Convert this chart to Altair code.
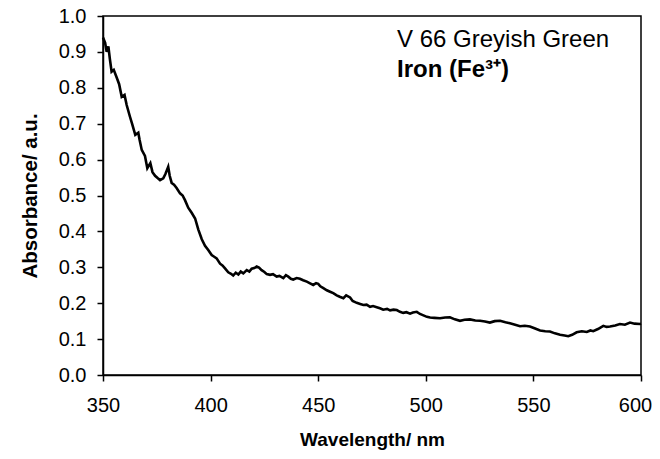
import altair as alt
import pandas as pd

wavelength = [
    350, 351, 351.7, 352.5, 353.2, 354, 355, 356.4, 357.5, 358.7,
    360, 361, 362.5, 363.5, 365, 366.4, 367, 368, 369.5, 370.6,
    372, 373, 374.2, 375.5, 376.5, 378, 379, 380.3, 381, 381.9,
    383, 384.2, 385.8, 387, 388.1, 389.6, 391.2, 392.8, 394.3, 395.9,
    397.4, 398.9, 400.5, 401.5, 402.8, 404.4, 405.5, 406.7, 408.2, 409.5,
    410.5, 411.7, 412.9, 414, 415.2, 416.8, 418, 419.1, 420.3, 421.4,
    422.5, 423.7, 425, 426.1, 427.6, 429, 430.7, 432, 433.8, 435,
    436.1, 437.3, 438.4, 440, 441.5, 443, 444.7, 446, 447.7, 449,
    450, 451, 452.4, 454, 455.5, 457, 458.6, 460, 461.7, 463,
    464.8, 466, 467.9, 469.5, 471, 472.5, 474.1, 475.5, 477.2, 478.7,
    480.2, 482, 483.4, 485, 486.5, 488, 489.5, 491, 492.7, 494,
    495.8, 497.3, 498.9, 500.5, 502, 504, 506.6, 509, 511.2, 513.5,
    515.9, 518, 520.5, 523, 525.2, 527.5, 529.8, 532, 534.5, 537,
    539.1, 541.5, 543.8, 546, 548.4, 550.5, 553.1, 555.5, 557.7, 560,
    562.4, 564.5, 566.2, 568, 570.1, 572.5, 574.8, 576.5, 577.8, 580,
    582.5, 584, 585.6, 588, 590.2, 592.5, 594.9, 597, 599.5, 600,
]

absorbance = [
    0.94, 0.925, 0.90, 0.915, 0.88, 0.845, 0.85, 0.828, 0.81, 0.775,
    0.78, 0.752, 0.72, 0.70, 0.669, 0.675, 0.655, 0.627, 0.61, 0.576,
    0.59, 0.565, 0.555, 0.548, 0.543, 0.548, 0.56, 0.58, 0.555, 0.535,
    0.53, 0.521, 0.506, 0.50, 0.487, 0.466, 0.452, 0.436, 0.405, 0.378,
    0.36, 0.348, 0.334, 0.33, 0.325, 0.31, 0.305, 0.297, 0.286, 0.282,
    0.277, 0.285, 0.28, 0.288, 0.283, 0.292, 0.288, 0.296, 0.298, 0.302,
    0.299, 0.292, 0.287, 0.281, 0.279, 0.281, 0.274, 0.276, 0.27, 0.278,
    0.274, 0.268, 0.266, 0.27, 0.268, 0.264, 0.26, 0.256, 0.251, 0.256,
    0.254, 0.247, 0.242, 0.236, 0.232, 0.228, 0.222, 0.218, 0.214, 0.222,
    0.216, 0.206, 0.201, 0.198, 0.195, 0.196, 0.19, 0.192, 0.189, 0.186,
    0.182, 0.184, 0.18, 0.182, 0.181, 0.176, 0.173, 0.175, 0.171, 0.174,
    0.176, 0.17, 0.166, 0.162, 0.16, 0.159, 0.158, 0.16, 0.161, 0.155,
    0.151, 0.154, 0.155, 0.152, 0.151, 0.149, 0.146, 0.15, 0.151, 0.147,
    0.144, 0.14, 0.136, 0.137, 0.135, 0.13, 0.124, 0.122, 0.121, 0.116,
    0.112, 0.11, 0.108, 0.112, 0.119, 0.122, 0.12, 0.124, 0.122, 0.128,
    0.137, 0.134, 0.135, 0.138, 0.142, 0.14, 0.146, 0.143, 0.142, 0.143,
]

x_ticks = [350, 400, 450, 500, 550, 600]
y_ticks = [0.0, 0.1, 0.2, 0.3, 0.4, 0.5, 0.6, 0.7, 0.8, 0.9, 1.0]
sample_label = "V 66 Greyish Green"
ion_label = "Iron (Fe³⁺)"

df = pd.DataFrame({"wl": wavelength, "abs": absorbance})
FONT = "Liberation Sans"

line = alt.Chart(df).mark_line(color="black", strokeWidth=2.6).encode(
    x=alt.X("wl:Q", scale=alt.Scale(domain=[350, 600], nice=False),
            axis=alt.Axis(values=x_ticks, title="Wavelength/ nm", format="d",
                          titlePadding=15, labelFlush=False,
                          labelOffset=alt.condition("datum.value == 600",
                                                    alt.value(-6), alt.value(0)))),
    y=alt.Y("abs:Q", scale=alt.Scale(domain=[0, 1], nice=False),
            axis=alt.Axis(values=y_ticks, title="Absorbance/ a.u.", format=".1f",
                          titlePadding=18, labelFlush=False, titleFontSize=20.5)),
)

t1 = alt.Chart(pd.DataFrame({"t": [sample_label]})).mark_text(
    font=FONT, fontSize=24, align="left", baseline="alphabetic", color="black"
).encode(text="t:N", x=alt.value(294), y=alt.value(31))

t2 = alt.Chart(pd.DataFrame({"t": [ion_label]})).mark_text(
    font=FONT, fontSize=24, fontWeight="bold", align="left", baseline="alphabetic", color="black"
).encode(text="t:N", x=alt.value(294), y=alt.value(61))

chart = alt.layer(line, t1, t2).properties(
    width=538, height=359,
    autosize=alt.AutoSizeParams(type="none"),
    padding={"left": 95, "top": 8, "right": 11, "bottom": 76},
).configure_view(
    stroke="black", strokeWidth=1.5
).configure_axis(
    grid=False,
    domainColor="black", domainWidth=1.5,
    tickColor="black", tickWidth=1.5, tickSize=6,
    labelFont=FONT, labelFontSize=20, labelColor="black", labelPadding=11,
    titleFont=FONT, titleFontSize=19, titleFontWeight="bold", titleColor="black",
).configure_axisX(labelPadding=14)

chart.save("out.html", embed_options={"renderer": "svg", "actions": False})
